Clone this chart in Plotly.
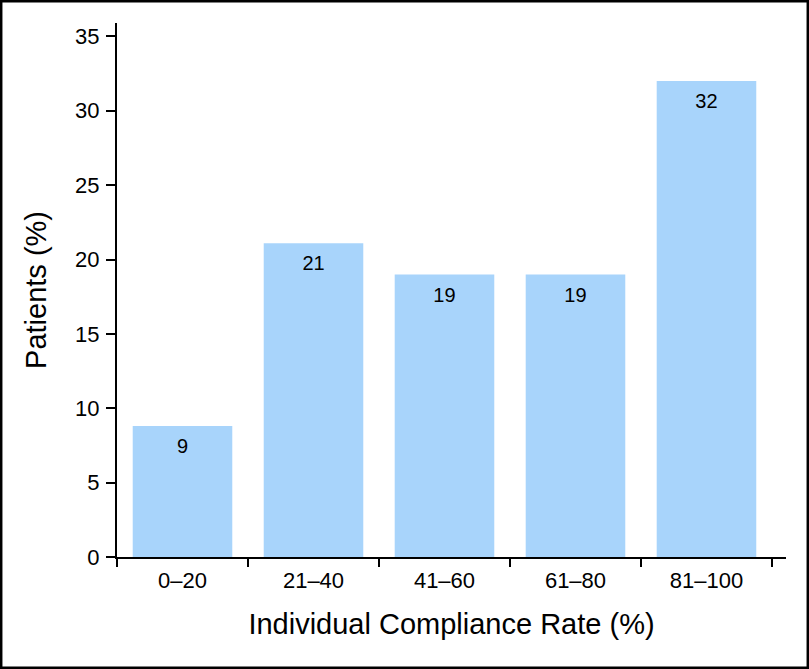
import plotly.graph_objects as go

categories = ["0–20", "21–40", "41–60", "61–80", "81–100"]
values = [8.8, 21.1, 19.0, 19.0, 32.0]
labels = ["9", "21", "19", "19", "32"]

W, H = 809, 669
L, R, T, B = 117, 23, 23, 112
pw, ph = W - L - R, H - T - B
FONT = "Liberation Sans, Arial"

fig = go.Figure()
fig.add_trace(go.Bar(
    x=categories, y=values,
    marker=dict(color="#a8d4fb", line=dict(width=0)),
    width=0.76, hoverinfo="x+y",
))
fig.add_trace(go.Scatter(
    x=categories, y=values, text=labels, mode="markers+text",
    textposition="bottom center",
    marker=dict(size=18, color="rgba(0,0,0,0)"),
    textfont=dict(size=20, color="black", family=FONT),
    hoverinfo="skip", cliponaxis=False,
))

fig.update_layout(
    width=W, height=H,
    margin=dict(l=L, r=R, t=T, b=B),
    plot_bgcolor="white", paper_bgcolor="white",
    showlegend=False,
    font=dict(family=FONT, color="black"),
    xaxis=dict(
        range=[-0.5, 4.607], tickson="boundaries",
        showline=True, linecolor="black", linewidth=2,
        ticks="outside", ticklen=8, tickwidth=2, tickcolor="black",
        tickfont=dict(size=22), ticklabelstandoff=3,
        title=dict(text="Individual Compliance Rate (%)", font=dict(size=29), standoff=21),
        showgrid=False, zeroline=False,
    ),
    yaxis=dict(
        range=[0, 35.9], tickvals=[0, 5, 10, 15, 20, 25, 30, 35],
        showline=True, linecolor="black", linewidth=2,
        ticks="outside", ticklen=9, tickwidth=2, tickcolor="black",
        tickfont=dict(size=22), ticklabelstandoff=2,
        title=dict(text="Patients (%)", font=dict(size=29), standoff=20),
        showgrid=False, zeroline=False,
    ),
    shapes=[dict(
        type="rect", xref="paper", yref="paper",
        x0=(1.2 - L) / pw, x1=(807.8 - L) / pw,
        y0=(H - B - 667.8) / ph, y1=(H - B - 1.2) / ph,
        line=dict(color="black", width=2.5), fillcolor="rgba(0,0,0,0)", layer="above",
    )],
)

fig.write_html("out.html", config={"displayModeBar": False},
               post_script="document.body.style.margin='0';")
